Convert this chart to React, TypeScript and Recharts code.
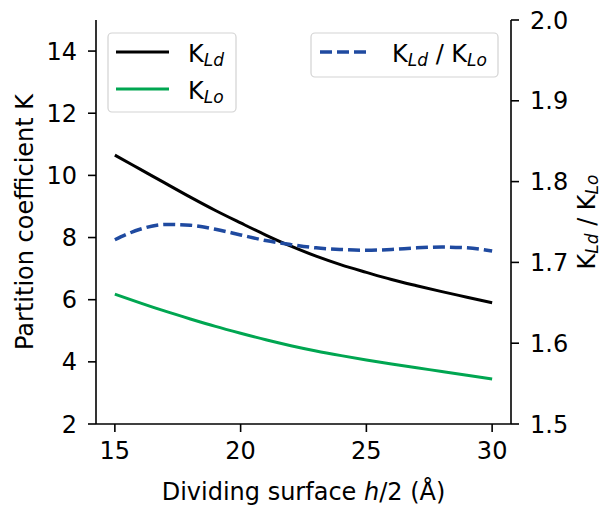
import { LineChart, Line, XAxis, YAxis } from "recharts";

const xs = [15, 16, 17, 18, 19, 20, 21, 22, 23, 24, 25, 26, 27, 28, 29, 30];
const kLd = [10.65, 10.2, 9.75, 9.3, 8.87, 8.47, 8.08, 7.72, 7.4, 7.12, 6.88, 6.65, 6.45, 6.26, 6.08, 5.9];
const kLo = [6.18, 5.9, 5.63, 5.38, 5.14, 4.92, 4.71, 4.52, 4.35, 4.2, 4.06, 3.93, 3.81, 3.69, 3.57, 3.45];
const ratio = [1.728, 1.741, 1.747, 1.746, 1.741, 1.734, 1.727, 1.722, 1.718, 1.716, 1.715, 1.716, 1.718, 1.719, 1.718, 1.714];

const xTicks = [15, 20, 25, 30];
const leftTicks = [2, 4, 6, 8, 10, 12, 14];
const rightTicks = [1.5, 1.6, 1.7, 1.8, 1.9, 2.0];

const data = xs.map((x, i) => ({ x, kLd: kLd[i], kLo: kLo[i], ratio: ratio[i] }));

const FONT = "DejaVu Sans";
const INK = "#000";
const GREEN = "#00a651";
const BLUE = "#1f4aa0";
const FS = 24;
const SUB = 17;

const tickStyle = { fontSize: FS, fill: INK, fontFamily: FONT };

function LeftLabel(props: any) {
  const vb = props.viewBox;
  const cx = 33;
  const cy = vb.y + vb.height / 2;
  return (
    <text x={cx} y={cy} transform={`rotate(-90 ${cx} ${cy})`} textAnchor="middle"
      fontSize={FS} fontFamily={FONT} fill={INK}>
      Partition coefficient K
    </text>
  );
}

function RightLabel(props: any) {
  const vb = props.viewBox;
  const cx = 595;
  const cy = vb.y + vb.height / 2;
  return (
    <text x={cx} y={cy} transform={`rotate(-90 ${cx} ${cy})`} textAnchor="middle"
      fontSize={FS} fontFamily={FONT} fill={INK}>
      K<tspan fontSize={SUB} fontStyle="italic" dy={3}>Ld</tspan>
      <tspan dy={-3}> / K</tspan>
      <tspan fontSize={SUB} fontStyle="italic" dy={3}>Lo</tspan>
    </text>
  );
}

function BottomLabel(props: any) {
  const vb = props.viewBox;
  return (
    <text x={vb.x + vb.width / 2} y={500} textAnchor="middle" fontSize={FS} fontFamily={FONT} fill={INK}>
      Dividing surface <tspan fontStyle="italic">h</tspan>/2 (Å)
    </text>
  );
}

function Sub({ x, y, a, b }: { x: number; y: number; a: string; b?: string }) {
  return (
    <text x={x} y={y} fontSize={FS} fontFamily={FONT} fill={INK}>
      K<tspan fontSize={SUB} fontStyle="italic" dy={4}>{a}</tspan>
      {b ? (
        <>
          <tspan dy={-4}> / K</tspan>
          <tspan fontSize={SUB} fontStyle="italic" dy={4}>{b}</tspan>
        </>
      ) : null}
    </text>
  );
}

export default function App() {
  return (
    <div style={{ position: "absolute", left: 0, top: 0, background: "#fff" }}>
      <LineChart width={603} height={505} data={data} margin={{ top: 20, right: 0, bottom: 0, left: 0 }}>
        <XAxis xAxisId="top" orientation="top" dataKey="x" type="number" domain={[14.25, 30.75]}
          allowDataOverflow tick={false} tickLine={false} height={0}
          axisLine={{ stroke: INK, strokeWidth: 1.6 }} />
        <XAxis dataKey="x" type="number" domain={[14.25, 30.75]} ticks={xTicks} allowDataOverflow
          height={81} tickSize={8} tickMargin={10} tick={tickStyle}
          axisLine={{ stroke: INK, strokeWidth: 1.6 }} tickLine={{ stroke: INK, strokeWidth: 1.6 }}
          label={<BottomLabel />} />
        <YAxis yAxisId="left" orientation="left" domain={[2, 15]} ticks={leftTicks} allowDataOverflow
          width={96} tickSize={8} tickMargin={11} tick={tickStyle}
          axisLine={{ stroke: INK, strokeWidth: 1.6 }} tickLine={{ stroke: INK, strokeWidth: 1.6 }}
          label={<LeftLabel />} />
        <YAxis yAxisId="right" orientation="right" domain={[1.5, 2.0]} ticks={rightTicks} allowDataOverflow
          width={92} tickSize={8} tickMargin={11} tick={tickStyle}
          tickFormatter={(v: number) => v.toFixed(1)}
          axisLine={{ stroke: INK, strokeWidth: 1.6 }} tickLine={{ stroke: INK, strokeWidth: 1.6 }}
          label={<RightLabel />} />
        <Line yAxisId="left" dataKey="kLd" type="monotone" stroke={INK} strokeWidth={3} dot={false}
          isAnimationActive={false} />
        <Line yAxisId="left" dataKey="kLo" type="monotone" stroke={GREEN} strokeWidth={3} dot={false}
          isAnimationActive={false} />
        <Line yAxisId="right" dataKey="ratio" type="monotone" stroke={BLUE} strokeWidth={3.5}
          strokeDasharray="12 5" dot={false} isAnimationActive={false} />

        <g>
          <rect x={108} y={33} width={128} height={79} rx={4} fill="#fff" fillOpacity={0.8} stroke="#d3d3d3" strokeWidth={1.2} />
          <line x1={116} x2={169} y1={52} y2={52} stroke={INK} strokeWidth={3} />
          <line x1={116} x2={169} y1={89} y2={89} stroke={GREEN} strokeWidth={3} />
          <Sub x={188} y={62} a="Ld" />
          <Sub x={188} y={99} a="Lo" />
          <rect x={311} y={33} width={187} height={44} rx={4} fill="#fff" fillOpacity={0.8} stroke="#d3d3d3" strokeWidth={1.2} />
          <line x1={320} x2={370} y1={52} y2={52} stroke={BLUE} strokeWidth={3.5} strokeDasharray="12 5" />
          <Sub x={392} y={62} a="Ld" b="Lo" />
        </g>
      </LineChart>
    </div>
  );
}
